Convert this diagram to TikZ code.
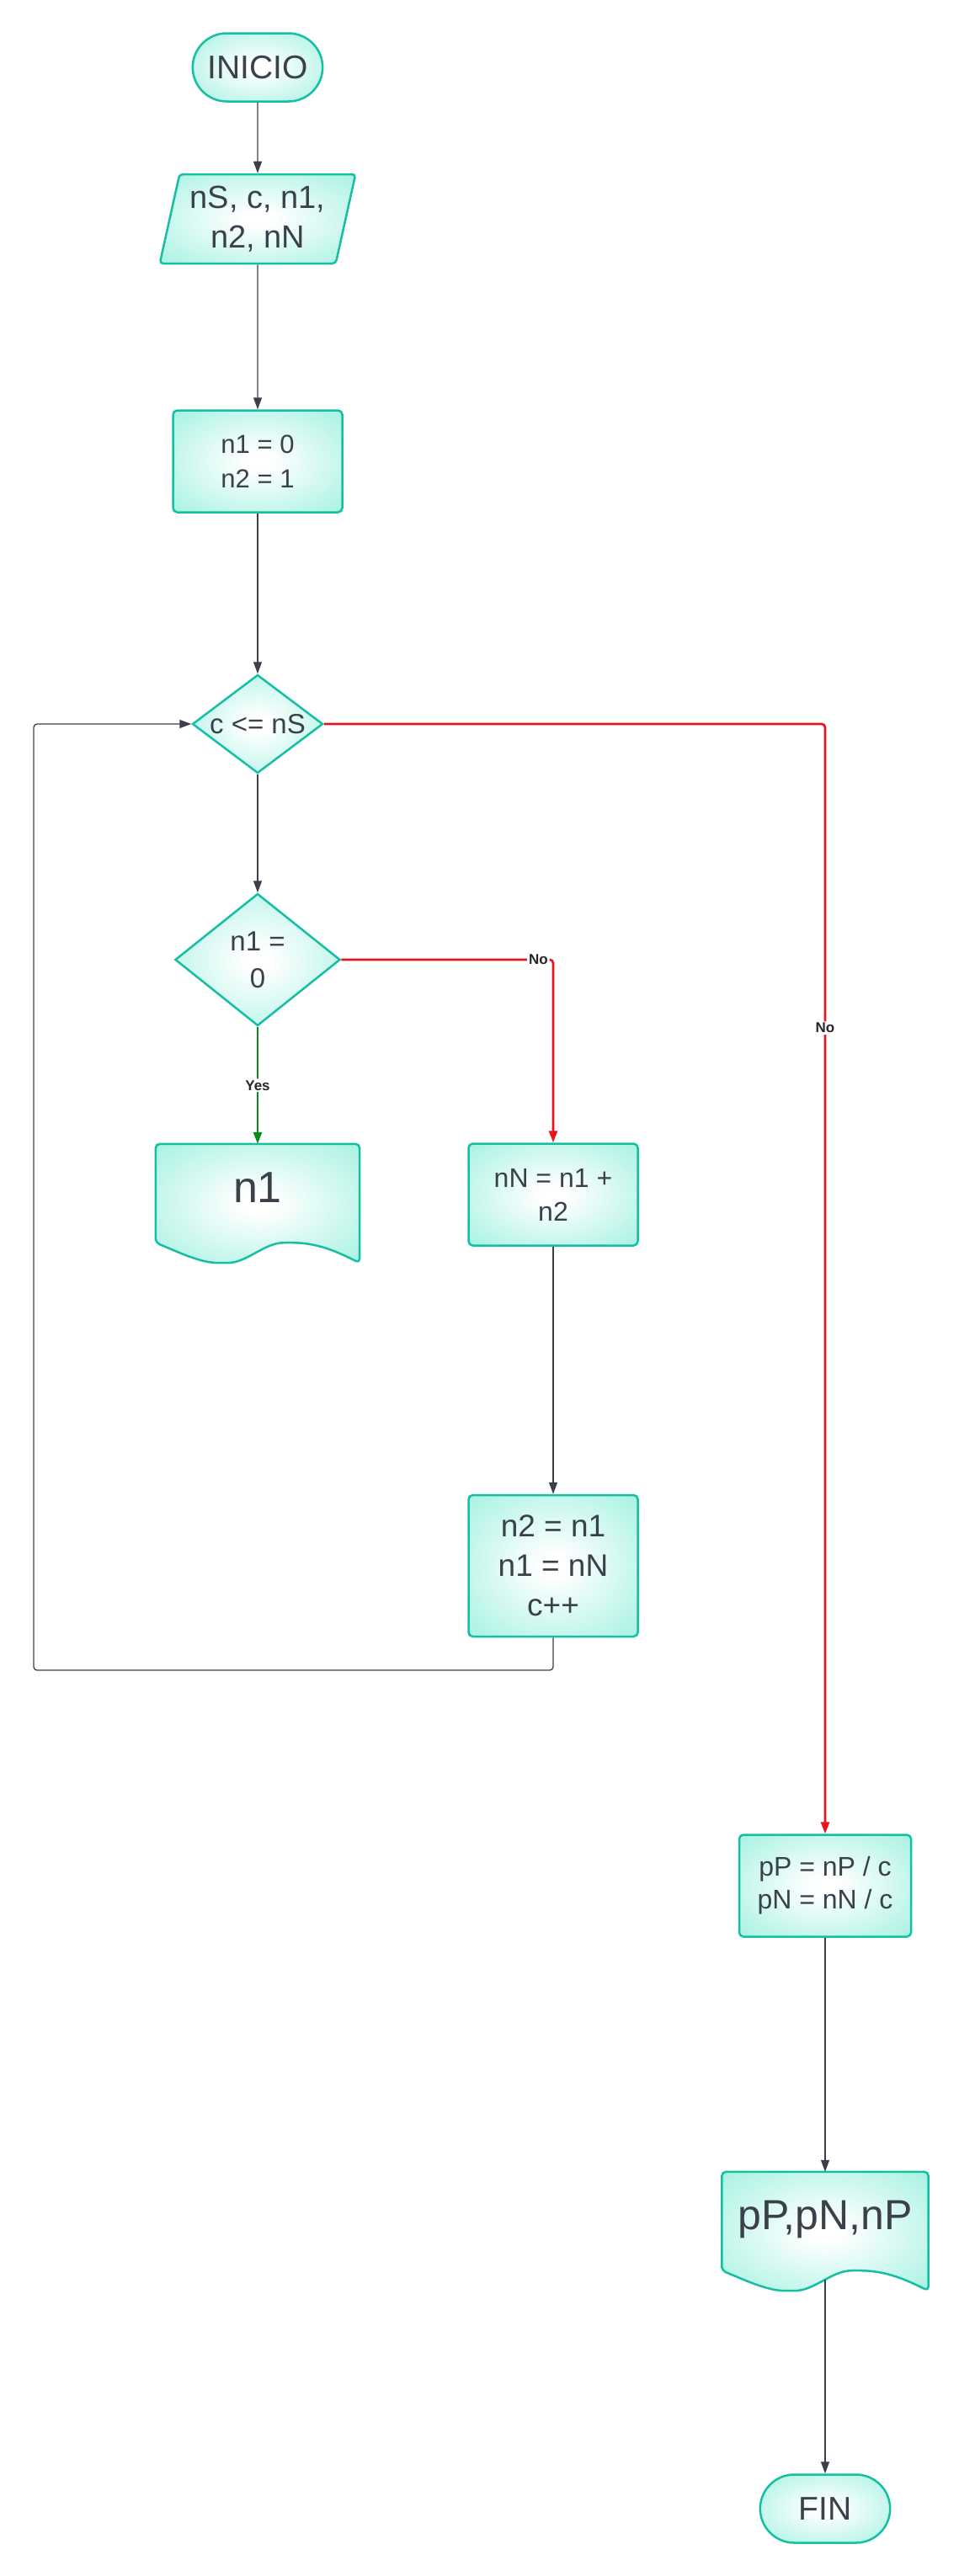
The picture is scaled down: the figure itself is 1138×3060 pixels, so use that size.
\documentclass[tikz,border=0pt]{standalone}
\usepackage{fontspec}
\setmainfont{Liberation Sans}
\usetikzlibrary{shapes.geometric,shapes.misc,arrows.meta,calc,backgrounds}
\definecolor{ink}{HTML}{3A414A}
\definecolor{rim}{HTML}{14BFA4}
\definecolor{aqua}{HTML}{9AF0DE}
\definecolor{wirecol}{HTML}{3B4048}
\definecolor{nored}{HTML}{E8141A}
\definecolor{yesgreen}{HTML}{0B8A17}
\pgfdeclareradialshading{glow}{\pgfpoint{0bp}{0bp}}{color(0bp)=(white); color(4bp)=(white); color(40bp)=(aqua); color(72bp)=(aqua)}
\begin{document}
\begin{tikzpicture}[x=1pt,y=-1pt]
\tikzset{box/.style={draw=rim, line width=2.5pt, shading=glow, text=ink, align=center}}
\tikzset{term/.style={box, rounded rectangle, minimum width=161pt, minimum height=81pt, font=\fontsize{39}{47}\selectfont}}
\tikzset{inout/.style={box, trapezium, trapezium left angle=76, trapezium right angle=104, trapezium stretches=true, rounded corners=4pt, minimum width=233pt, minimum height=106pt, font=\fontsize{38}{47}\selectfont}}
\tikzset{proc/.style={box, rectangle, rounded corners=5pt, minimum width=201pt, minimum height=121pt}}
\tikzset{decide/.style={box, diamond, aspect=1.32, inner sep=0pt}}
\tikzset{docbody/.style={rectangle, inner sep=0pt, minimum height=117pt, text=ink, text depth=14pt}}
\tikzset{docshape/.style={draw=rim, line width=2.5pt, shading=glow, rounded corners=5pt}}
\tikzset{wire/.style={draw=wirecol, line width=1.3pt, rounded corners=4pt, -{Triangle[length=14pt,width=10pt]}}}
\tikzset{noline/.style={wire, draw=nored, line width=2.6pt}}
\tikzset{yesline/.style={wire, draw=yesgreen, line width=2.6pt}}
\tikzset{lbl/.style={fill=white, text=black!85, inner sep=2pt, font=\bfseries\fontsize{17}{17}\selectfont}}

\node[term] (start) at (306,80) {INICIO};
\node[inout] (data) at (306,260) {nS, c, n1,\\n2, nN};
\node[proc, font=\fontsize{31}{41}\selectfont] (init) at (306,548) {n1 = 0\\n2 = 1};
\node[decide, minimum width=155pt, minimum height=117pt, font=\fontsize{33}{40}\selectfont] (cond) at (306,860) {c <= nS};
\node[decide, minimum width=196pt, minimum height=157pt, font=\fontsize{33}{44}\selectfont] (iszero) at (306,1140) {n1 =\\0};
\node[docbody, minimum width=242pt, font=\fontsize{52}{60}\selectfont] (out1) at (306,1417.5) {n1};
\node[proc, font=\fontsize{32}{40}\selectfont] (sum) at (657,1419) {nN = n1 +\\n2};
\node[proc, minimum height=168pt, font=\fontsize{37}{47}\selectfont] (upd) at (657,1860) {n2 = n1\\n1 = nN\\c++};
\node[proc, minimum width=204pt, font=\fontsize{32}{39}\selectfont] (calc) at (980,2240) {pP = nP / c\\pN = nN / c};
\node[docbody, minimum width=245pt, font=\fontsize{50}{60}\selectfont] (out2) at (980,2638.5) {pP,pN,nP};
\node[term] (fin) at (980,2980) {FIN};

\coordinate (loopturn) at (40,1984);
\coordinate (out2wave) at ($(out2.south)+(0,11)$);

\begin{scope}[on background layer]
\fill[white] (0,0) rectangle (1138,3060);
\foreach \d in {out1,out2}{
  \path[docshape] (\d.south west) -- (\d.north west) -- (\d.north east) -- ($(\d.south east)+(0,24)$)
    .. controls ($(\d.south west)!0.9!(\d.south east)+(0,12)$) and ($(\d.south west)!0.8!(\d.south east)$) .. ($(\d.south west)!0.65!(\d.south east)$)
    .. controls ($(\d.south west)!0.53!(\d.south east)$) and ($(\d.south west)!0.45!(\d.south east)+(0,24)$) .. ($(\d.south west)!0.33!(\d.south east)+(0,24)$)
    .. controls ($(\d.south west)!0.22!(\d.south east)+(0,24)$) and ($(\d.south west)!0.12!(\d.south east)+(0,12)$) .. (\d.south west) -- cycle;
}
\end{scope}

\draw[wire] (start.south) -- (data.north);
\draw[wire] (data.south) -- (init.north);
\draw[wire] (init.south) -- (cond.north);
\draw[wire] (cond.south) -- (iszero.north);
\draw[yesline] (iszero.south) -- (out1.north) node[lbl, midway] {Yes};
\draw[noline] (iszero.east) -| (sum.north) node[lbl, pos=0.465] {No};
\draw[noline] (cond.east) -| (calc.north) node[lbl, pos=0.637] {No};
\draw[wire] (sum.south) -- (upd.north);
\draw[wire] (upd.south) |- (loopturn) |- (cond.west);
\draw[wire] (calc.south) -- (out2.north);
\draw[wire] (out2wave) -- (fin.north);
\end{tikzpicture}
\end{document}
